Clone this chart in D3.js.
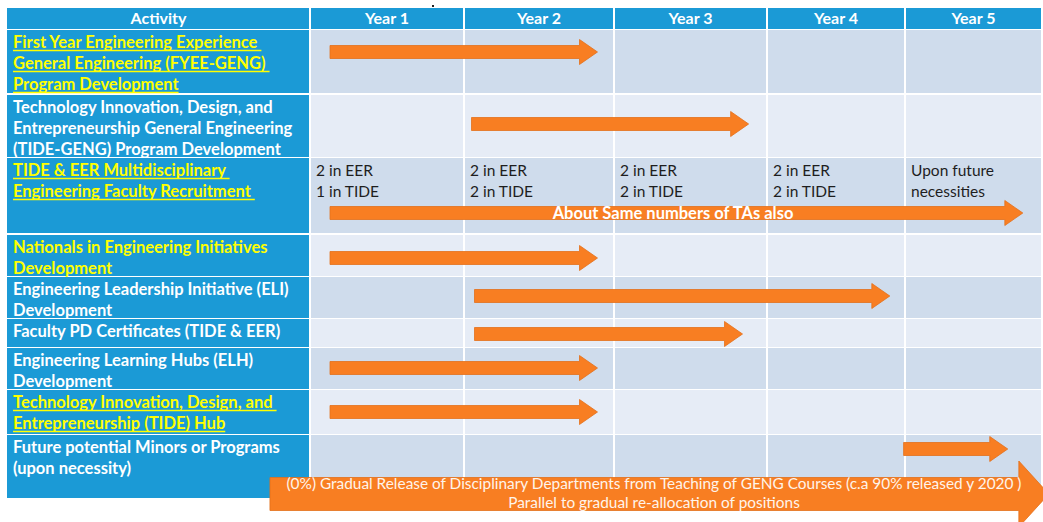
<!DOCTYPE html>
<html>
<head>
<meta charset="utf-8">
<script src="https://cdn.jsdelivr.net/npm/d3@7"></script>
<style>
  html, body { margin: 0; padding: 0; background: #fff; }
  svg { display: block; }
</style>
</head>
<body>
<svg id="chart" width="1043" height="522"></svg>
<script>
// ---------------- DATA ----------------
const headerActivity = "Activity";
const years = ["Year 1", "Year 2", "Year 3", "Year 4", "Year 5"];

const activities = [
  ["First Year Engineering Experience ", "General Engineering (FYEE-GENG) ", "Program Development"],
  ["Technology Innovation, Design, and", "Entrepreneurship General Engineering", "(TIDE-GENG) Program Development"],
  ["TIDE & EER Multidisciplinary ", "Engineering Faculty Recruitment "],
  ["Nationals in Engineering Initiatives", "Development"],
  ["Engineering Leadership Initiative (ELI)", "Development"],
  ["Faculty PD Certificates (TIDE & EER)"],
  ["Engineering Learning Hubs (ELH)", "Development"],
  ["Technology Innovation, Design, and ", "Entrepreneurship (TIDE) Hub"],
  ["Future potential Minors or Programs", "(upon necessity)"]
];
const highlighted = [true, false, true, true, false, false, false, true, false];
const underlined  = [true, false, true, false, false, false, false, true, false];

// arrow spans in "year position" units (0 = start of Year 1, 5 = end of Year 5)
const arrowStart = [0.13, 1.05, 0.13, 0.13, 1.07, 1.07, 0.13, 0.13, 3.99];
const arrowEnd   = [1.89, 2.88, 4.86, 1.89, 3.89, 2.84, 1.89, 1.89, 4.75];
const arrowLabel = ["", "", "About Same numbers of TAs also", "", "", "", "", "", ""];

// recruitment row cell notes (row index 2)
const recruitmentNotes = [
  ["2 in EER", "1 in TIDE"],
  ["2 in EER", "2 in TIDE"],
  ["2 in EER", "2 in TIDE"],
  ["2 in EER", "2 in TIDE"],
  ["Upon future", "necessities"]
];

// bottom overall arrow
const releaseStart = -0.26;
const releaseEnd = 5.05;
const releaseText = [
  "(0%) Gradual Release of Disciplinary Departments from Teaching of GENG Courses (c.a 90% released y 2020 )",
  "Parallel to gradual re-allocation of positions"
];

// ---------------- LAYOUT ----------------
const svg = d3.select("#chart");
const tableLeft = 7;
const colBounds = [310, 464, 614, 767, 905, 1042];
const x = d3.scaleLinear().domain([0, 1, 2, 3, 4, 5]).range(colBounds);

const headerTop = 8, headerBottom = 29;
const rowTops    = [30, 95, 158, 235, 277, 319, 348, 390, 435];
const rowBottoms = [93, 157, 233, 276, 318, 347, 389, 434, 498];
const arrowOffset = [22, 29, 55, 23, 19, 15, 20, 22, 14];

const blue = "#1b9ad6";
const darkCell = "#cfdcec";
const lightCell = "#e6ecf6";
const orange = "#f87e22";
const orangeStroke = "#e3701a";
const FONT = "Lato, 'Open Sans', sans-serif";

// header
svg.append("rect").attr("x", tableLeft).attr("y", headerTop)
  .attr("width", colBounds[0] - tableLeft - 1).attr("height", headerBottom - headerTop)
  .attr("fill", blue);
svg.append("text").attr("x", (tableLeft + colBounds[0]) / 2).attr("y", 24)
  .attr("text-anchor", "middle").attr("fill", "#fff")
  .attr("font-family", FONT).attr("font-weight", 700).attr("font-size", 16)
  .text(headerActivity);

svg.selectAll("rect.hdr").data(years).enter().append("rect")
  .attr("class", "hdr")
  .attr("x", (d, i) => x(i) + 1)
  .attr("y", headerTop)
  .attr("width", (d, i) => x(i + 1) - x(i) - 2)
  .attr("height", headerBottom - headerTop)
  .attr("fill", blue);
svg.selectAll("text.hdr").data(years).enter().append("text")
  .attr("class", "hdr")
  .attr("x", (d, i) => (x(i) + x(i + 1)) / 2)
  .attr("y", 24)
  .attr("text-anchor", "middle").attr("fill", "#fff")
  .attr("font-family", FONT).attr("font-weight", 700).attr("font-size", 16)
  .text(d => d);

// rows
activities.forEach((lines, r) => {
  const top = rowTops[r], bottom = rowBottoms[r];
  const fill = r % 2 === 0 ? darkCell : lightCell;
  svg.append("rect").attr("x", tableLeft).attr("y", top)
    .attr("width", colBounds[0] - tableLeft - 1).attr("height", bottom - top)
    .attr("fill", blue);
  years.forEach((y, i) => {
    svg.append("rect").attr("x", x(i) + 1).attr("y", top)
      .attr("width", x(i + 1) - x(i) - 2).attr("height", bottom - top)
      .attr("fill", fill);
  });
  const color = highlighted[r] ? "#ffff00" : "#ffffff";
  lines.forEach((ln, k) => {
    const t = svg.append("text")
      .attr("x", 13).attr("y", top + 18 + k * 21)
      .attr("fill", color)
      .attr("font-family", FONT).attr("font-weight", 700).attr("font-size", 16.5)
      .attr("xml:space", "preserve")
      .style("white-space", "pre")
      .text(ln);
    if (underlined[r]) {
      const w = t.node().getComputedTextLength();
      svg.append("line")
        .attr("x1", 13).attr("x2", 13 + w)
        .attr("y1", top + 18 + k * 21 + 2.5).attr("y2", top + 18 + k * 21 + 2.5)
        .attr("stroke", color).attr("stroke-width", 1.4);
    }
  });
});

// recruitment notes
recruitmentNotes.forEach((lines, i) => {
  lines.forEach((ln, k) => {
    svg.append("text")
      .attr("x", x(i) + 6).attr("y", rowTops[2] + 18 + k * 21)
      .attr("fill", "#1e1e1e")
      .attr("font-family", FONT).attr("font-size", 15.5)
      .text(ln);
  });
});

// arrows
function arrowPath(x0, x1, yc, h, H, L) {
  return `M${x0},${yc - h}L${x1 - L},${yc - h}L${x1 - L},${yc - H}L${x1},${yc}` +
         `L${x1 - L},${yc + H}L${x1 - L},${yc + h}L${x0},${yc + h}Z`;
}
arrowStart.forEach((s, r) => {
  const yc = rowTops[r] + arrowOffset[r];
  svg.append("path")
    .attr("d", arrowPath(x(s), x(arrowEnd[r]), yc, 6.5, 12.5, 18))
    .attr("fill", orange).attr("stroke", orangeStroke).attr("stroke-width", 0.8);
  if (arrowLabel[r]) {
    svg.append("text")
      .attr("x", 673).attr("y", yc + 5.5)
      .attr("text-anchor", "middle").attr("fill", "#fff")
      .attr("font-family", FONT).attr("font-weight", 700).attr("font-size", 16.5)
      .text(arrowLabel[r]);
  }
});

// bottom release arrow
const ryc = 494;
svg.append("path")
  .attr("d", arrowPath(x(releaseStart), x(releaseEnd), ryc, 16.5, 33, 30))
  .attr("fill", orange).attr("stroke", orangeStroke).attr("stroke-width", 0.8);
releaseText.forEach((t, k) => {
  svg.append("text")
    .attr("x", 654).attr("y", 489 + k * 19)
    .attr("text-anchor", "middle").attr("fill", "#fff4ea")
    .attr("font-family", FONT).attr("font-size", 15.4)
    .text(t);
});

// tiny stray mark at top
svg.append("rect").attr("x", 432).attr("y", 5).attr("width", 2).attr("height", 2).attr("fill", "#222");
</script>
</body>
</html>
